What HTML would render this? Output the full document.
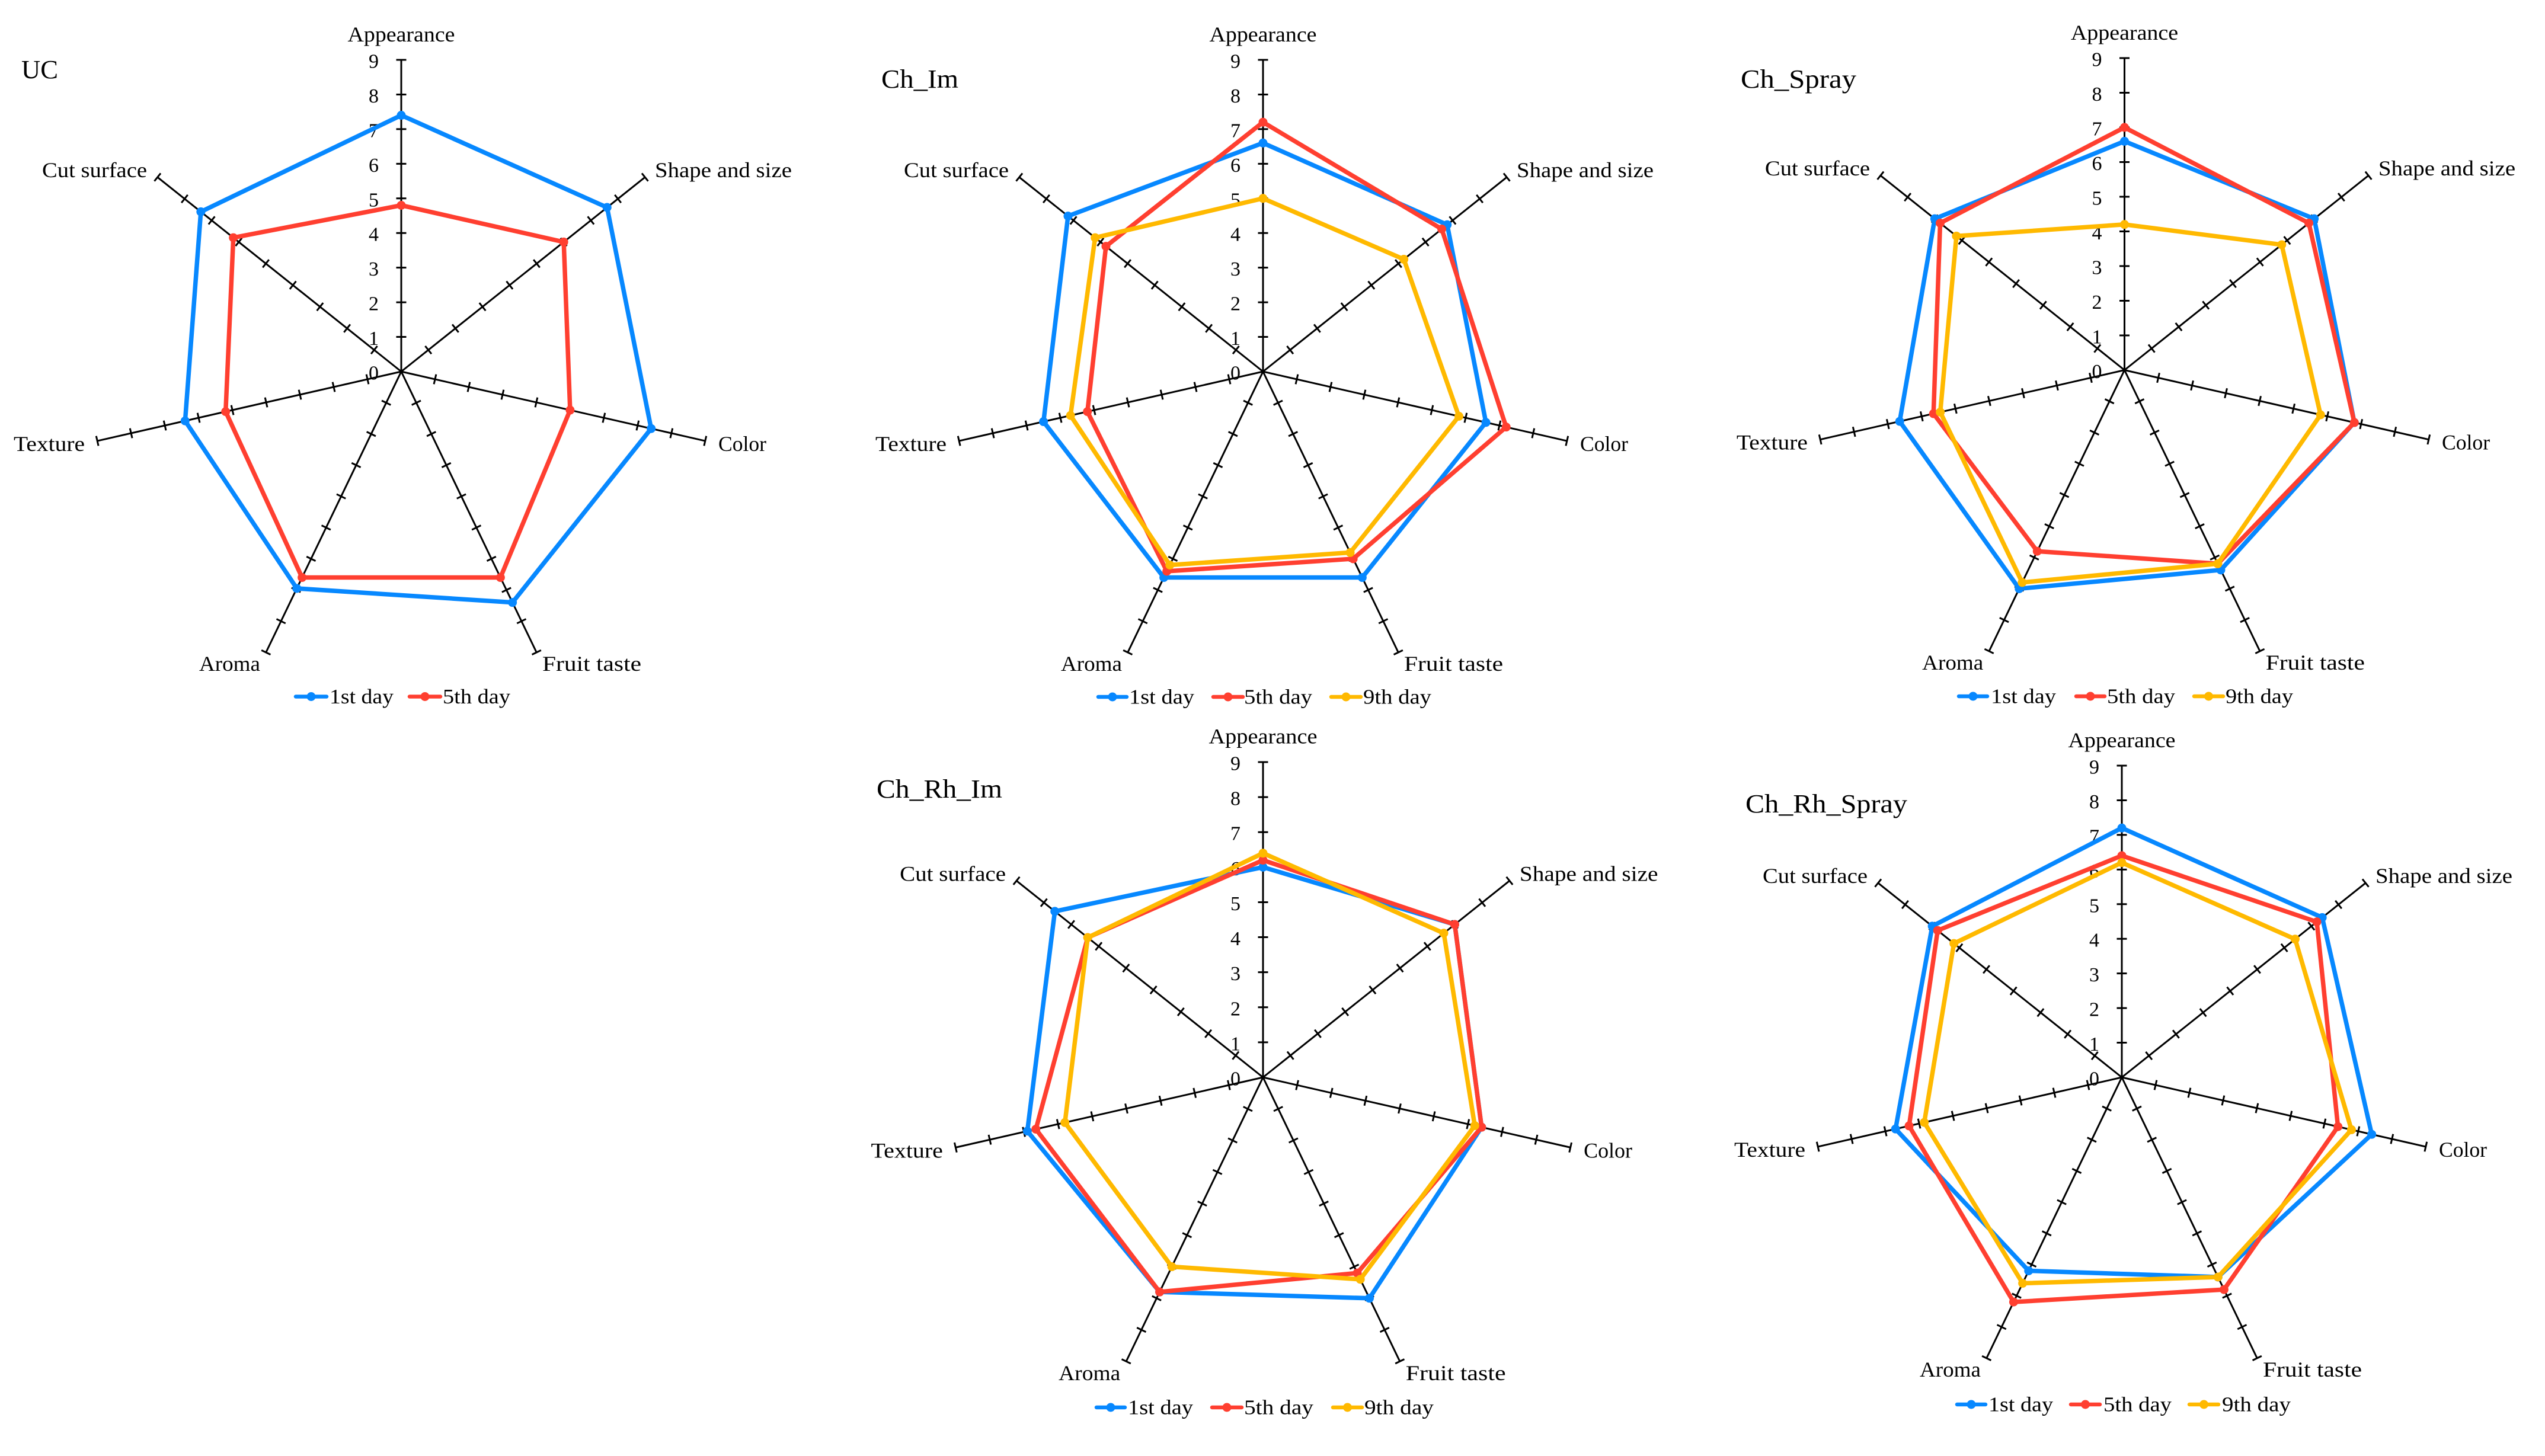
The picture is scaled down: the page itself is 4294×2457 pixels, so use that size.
<!DOCTYPE html>
<html lang="en">
<head>
<meta charset="utf-8">
<title>Sensory radar charts</title>
<style>
  html, body { margin: 0; padding: 0; background: #fff; }
  svg { display: block; }
  text { font-family: "Liberation Serif", "DejaVu Serif", serif; fill: #000; }
  .title { font-size: 44px; }
  .legend-text { font-size: 35px; }
</style>
</head>
<body>
<svg id="chart" xmlns="http://www.w3.org/2000/svg" width="4294" height="2457" viewBox="0 0 4294 2457">
  <rect x="0" y="0" width="4294" height="2457" fill="#fff"/>

  <g id="panel-uc">
    <text class="title" x="36" y="132" textLength="62" lengthAdjust="spacingAndGlyphs">UC</text>
    <g>
      <g>
        <line x1="499" x2="551" y1="1175.5" y2="1175.5" stroke="#0788ff" stroke-width="6.5" stroke-linecap="round"/><circle cx="525" cy="1175.5" r="7.5" fill="#0788ff"/>
        <text class="legend-text" x="556" y="1187" textLength="108" lengthAdjust="spacingAndGlyphs">1st day</text>
      </g>
      <g>
        <line x1="691" x2="743" y1="1175.5" y2="1175.5" stroke="#ff3f30" stroke-width="6.5" stroke-linecap="round"/><circle cx="717" cy="1175.5" r="7.5" fill="#ff3f30"/>
        <text class="legend-text" x="747" y="1187" textLength="114" lengthAdjust="spacingAndGlyphs">5th day</text>
      </g>
    </g>
  </g>

  <g id="panel-ch-im">
    <text class="title" x="1487" y="148" textLength="130" lengthAdjust="spacingAndGlyphs">Ch_Im</text>
    <g>
      <g>
        <line x1="1853" x2="1901" y1="1176" y2="1176" stroke="#0788ff" stroke-width="6.5" stroke-linecap="round"/><circle cx="1877" cy="1176" r="7.5" fill="#0788ff"/>
        <text class="legend-text" x="1905" y="1187.5" textLength="110" lengthAdjust="spacingAndGlyphs">1st day</text>
      </g>
      <g>
        <line x1="2047" x2="2097" y1="1176" y2="1176" stroke="#ff3f30" stroke-width="6.5" stroke-linecap="round"/><circle cx="2072" cy="1176" r="7.5" fill="#ff3f30"/>
        <text class="legend-text" x="2099" y="1187.5" textLength="115" lengthAdjust="spacingAndGlyphs">5th day</text>
      </g>
      <g>
        <line x1="2246" x2="2296" y1="1176" y2="1176" stroke="#ffb900" stroke-width="6.5" stroke-linecap="round"/><circle cx="2271" cy="1176" r="7.5" fill="#ffb900"/>
        <text class="legend-text" x="2300" y="1187.5" textLength="115" lengthAdjust="spacingAndGlyphs">9th day</text>
      </g>
    </g>
  </g>

  <g id="panel-ch-spray">
    <text class="title" x="2937" y="148" textLength="195" lengthAdjust="spacingAndGlyphs">Ch_Spray</text>
    <g>
      <g>
        <line x1="3305" x2="3353" y1="1175" y2="1175" stroke="#0788ff" stroke-width="6.5" stroke-linecap="round"/><circle cx="3329" cy="1175" r="7.5" fill="#0788ff"/>
        <text class="legend-text" x="3359" y="1186.5" textLength="110" lengthAdjust="spacingAndGlyphs">1st day</text>
      </g>
      <g>
        <line x1="3503" x2="3551" y1="1175" y2="1175" stroke="#ff3f30" stroke-width="6.5" stroke-linecap="round"/><circle cx="3527" cy="1175" r="7.5" fill="#ff3f30"/>
        <text class="legend-text" x="3555" y="1186.5" textLength="115" lengthAdjust="spacingAndGlyphs">5th day</text>
      </g>
      <g>
        <line x1="3702" x2="3751" y1="1175" y2="1175" stroke="#ffb900" stroke-width="6.5" stroke-linecap="round"/><circle cx="3726.5" cy="1175" r="7.5" fill="#ffb900"/>
        <text class="legend-text" x="3755" y="1186.5" textLength="114" lengthAdjust="spacingAndGlyphs">9th day</text>
      </g>
    </g>
  </g>

  <g id="panel-ch-rh-im">
    <text class="title" x="1479" y="1346" textLength="212" lengthAdjust="spacingAndGlyphs">Ch_Rh_Im</text>
    <g>
      <g>
        <line x1="1850" x2="1898" y1="2375" y2="2375" stroke="#0788ff" stroke-width="6.5" stroke-linecap="round"/><circle cx="1874" cy="2375" r="7.5" fill="#0788ff"/>
        <text class="legend-text" x="1903" y="2386.5" textLength="110" lengthAdjust="spacingAndGlyphs">1st day</text>
      </g>
      <g>
        <line x1="2045" x2="2095" y1="2375" y2="2375" stroke="#ff3f30" stroke-width="6.5" stroke-linecap="round"/><circle cx="2070" cy="2375" r="7.5" fill="#ff3f30"/>
        <text class="legend-text" x="2099" y="2386.5" textLength="117" lengthAdjust="spacingAndGlyphs">5th day</text>
      </g>
      <g>
        <line x1="2249" x2="2298" y1="2375" y2="2375" stroke="#ffb900" stroke-width="6.5" stroke-linecap="round"/><circle cx="2273.5" cy="2375" r="7.5" fill="#ffb900"/>
        <text class="legend-text" x="2302" y="2386.5" textLength="117" lengthAdjust="spacingAndGlyphs">9th day</text>
      </g>
    </g>
  </g>

  <g id="panel-ch-rh-spray">
    <text class="title" x="2945" y="1371" textLength="273" lengthAdjust="spacingAndGlyphs">Ch_Rh_Spray</text>
    <g>
      <g>
        <line x1="3302" x2="3350" y1="2370" y2="2370" stroke="#0788ff" stroke-width="6.5" stroke-linecap="round"/><circle cx="3326" cy="2370" r="7.5" fill="#0788ff"/>
        <text class="legend-text" x="3355" y="2381.5" textLength="109" lengthAdjust="spacingAndGlyphs">1st day</text>
      </g>
      <g>
        <line x1="3494" x2="3543" y1="2370" y2="2370" stroke="#ff3f30" stroke-width="6.5" stroke-linecap="round"/><circle cx="3518.5" cy="2370" r="7.5" fill="#ff3f30"/>
        <text class="legend-text" x="3549" y="2381.5" textLength="115" lengthAdjust="spacingAndGlyphs">5th day</text>
      </g>
      <g>
        <line x1="3694" x2="3743" y1="2370" y2="2370" stroke="#ffb900" stroke-width="6.5" stroke-linecap="round"/><circle cx="3718.5" cy="2370" r="7.5" fill="#ffb900"/>
        <text class="legend-text" x="3749" y="2381.5" textLength="116" lengthAdjust="spacingAndGlyphs">9th day</text>
      </g>
    </g>
  </g>
</svg>

<script>
// Data: order of values follows `categories`, clockwise from the top axis.
const categories = ["Appearance", "Shape and size", "Color", "Fruit taste", "Aroma", "Texture", "Cut surface"];
const tickLabels = ["0", "1", "2", "3", "4", "5", "6", "7", "8", "9"];

const ucDay1 = [7.4, 7.6, 7.4, 7.4, 6.95, 6.4, 7.4];
const ucDay5 = [4.8, 6.0, 5.0, 6.6, 6.6, 5.2, 6.2];

const chImDay1 = [6.6, 6.8, 6.6, 6.6, 6.6, 6.5, 7.2];
const chImDay5 = [7.2, 6.6, 7.2, 6.0, 6.4, 5.2, 5.8];
const chImDay9 = [5.0, 5.2, 5.8, 5.8, 6.2, 5.7, 6.2];

const chSprayDay1 = [6.6, 7.0, 6.8, 6.4, 7.0, 6.65, 7.0];
const chSprayDay5 = [7.0, 6.8, 6.8, 6.2, 5.8, 5.65, 6.8];
const chSprayDay9 = [4.2, 5.8, 5.8, 6.2, 6.8, 5.45, 6.2];

const chRhImDay1 = [6.0, 7.0, 6.4, 7.0, 6.8, 6.9, 7.6];
const chRhImDay5 = [6.2, 7.0, 6.4, 6.2, 6.8, 6.65, 6.4];
const chRhImDay9 = [6.4, 6.6, 6.2, 6.4, 6.0, 5.8, 6.4];

const chRhSprayDay1 = [7.2, 7.4, 7.4, 6.4, 6.2, 6.7, 7.0];
const chRhSprayDay5 = [6.4, 7.2, 6.4, 6.8, 7.2, 6.3, 6.8];
const chRhSprayDay9 = [6.2, 6.4, 6.8, 6.4, 6.6, 5.85, 6.2];

const SVG_NS = "http://www.w3.org/2000/svg";
const AXIS_MAX = 9;
const seriesColors = ["#0788ff", "#ff3f30", "#ffb900"];
const seriesNames = ["1st-day", "5th-day", "9th-day"];

function make(tag, attrs) {
  const el = document.createElementNS(SVG_NS, tag);
  for (const key in attrs) el.setAttribute(key, attrs[key]);
  return el;
}

function drawRadar(groupId, cx, cy, R, seriesList) {
  const parent = document.getElementById(groupId);
  const k = R / 526;
  const n = categories.length;
  const angle = i => (i * 2 * Math.PI) / n;
  const radius = v => (v / AXIS_MAX) * R;
  const px = (i, v) => cx + radius(v) * Math.sin(angle(i));
  const py = (i, v) => cy - radius(v) * Math.cos(angle(i));

  const axes = make("g", {});
  
  
  parent.appendChild(axes);

  categories.forEach((cat, i) => {
    const spoke = make("line", {
      x1: cx, y1: cy, x2: px(i, AXIS_MAX), y2: py(i, AXIS_MAX),
      stroke: "#000", "stroke-width": 3
    });
    
    
    axes.appendChild(spoke);
    const nx = Math.cos(angle(i));
    const ny = Math.sin(angle(i));
    tickLabels.forEach(label => {
      const v = Number(label);
      if (v === 0) return;
      const tick = make("line", {
        x1: px(i, v) - 8.5 * nx, y1: py(i, v) - 8.5 * ny,
        x2: px(i, v) + 8.5 * nx, y2: py(i, v) + 8.5 * ny,
        stroke: "#000", "stroke-width": 3
      });
      
      
      axes.appendChild(tick);
    });
  });

  tickLabels.forEach(label => {
    const t = make("text", {
      x: cx - 38, y: cy - radius(Number(label)) + 13.5,
      "text-anchor": "end", "font-size": 34
    });
    t.textContent = label;
    
    
    parent.appendChild(t);
  });

  const labelSpots = [
    { dx: 0, dy: -557, anchor: "middle", w: 181 },
    { dx: 428, dy: -328, anchor: "start", w: 231 },
    { dx: 535, dy: 134, anchor: "start", w: 81 },
    { dx: 238, dy: 505, anchor: "start", w: 167 },
    { dx: -238, dy: 505, anchor: "end", w: 103 },
    { dx: -534, dy: 134, anchor: "end", w: 120 },
    { dx: -429, dy: -328, anchor: "end", w: 177 }
  ];
  categories.forEach((cat, i) => {
    const s = labelSpots[i];
    const t = make("text", {
      x: cx + s.dx * k, y: cy + s.dy * k,
      "text-anchor": s.anchor, "font-size": 36,
      textLength: s.w * k, lengthAdjust: "spacingAndGlyphs"
    });
    t.textContent = cat;
    
    
    parent.appendChild(t);
  });

  seriesList.forEach((values, si) => {
    const g = make("g", {});
    
    
    const pts = values.map((v, i) => px(i, v).toFixed(2) + "," + py(i, v).toFixed(2)).join(" ");
    const poly = make("polygon", {
      points: pts, fill: "none", stroke: seriesColors[si],
      "stroke-width": 7.5, "stroke-linejoin": "round"
    });
    
    
    g.appendChild(poly);
    values.forEach((v, i) => {
      const dot = make("circle", { cx: px(i, v), cy: py(i, v), r: 7.5, fill: seriesColors[si] });
      
      
      g.appendChild(dot);
    });
    parent.appendChild(g);
  });
}

drawRadar("panel-uc", 677, 627, 526, [ucDay1, ucDay5]);
drawRadar("panel-ch-im", 2131, 627, 526, [chImDay1, chImDay5, chImDay9]);
drawRadar("panel-ch-spray", 3584.5, 624.5, 526.5, [chSprayDay1, chSprayDay5, chSprayDay9]);
drawRadar("panel-ch-rh-im", 2131, 1818, 532, [chRhImDay1, chRhImDay5, chRhImDay9]);
drawRadar("panel-ch-rh-spray", 3580, 1818, 526, [chRhSprayDay1, chRhSprayDay5, chRhSprayDay9]);
</script>
</body>
</html>
